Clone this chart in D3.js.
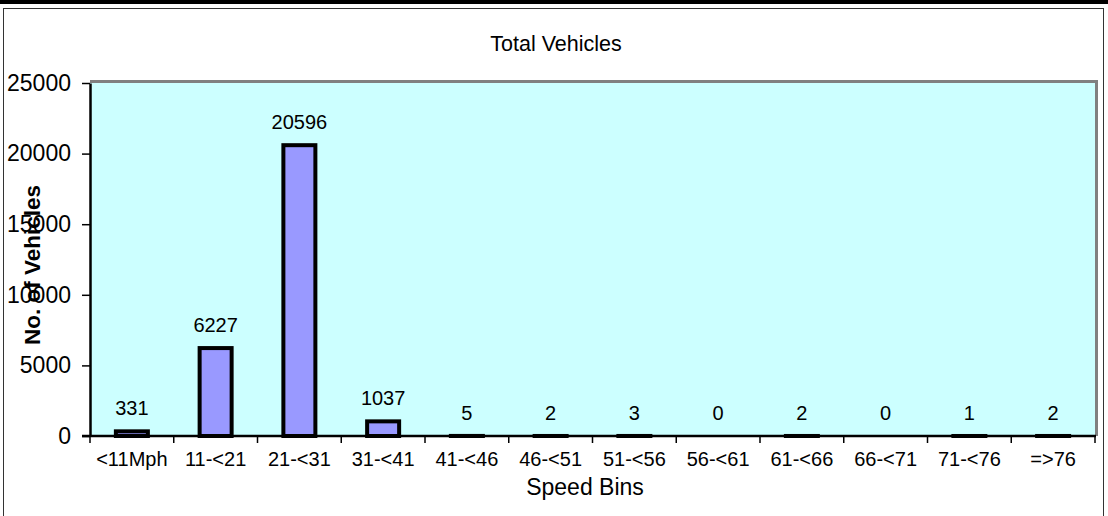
<!DOCTYPE html>
<html><head><meta charset="utf-8">
<script src="https://cdn.jsdelivr.net/npm/d3@7"></script>
<style>body{margin:0;background:#fff}svg{display:block;font-family:"Liberation Sans",Arial,sans-serif}</style>
</head><body>
<svg id="c" width="1108" height="516"></svg>
<script>
const categories = ["<11Mph","11-<21","21-<31","31-<41","41-<46","46-<51","51-<56","56-<61","61-<66","66-<71","71-<76","=>76"];
const values = [331,6227,20596,1037,5,2,3,0,2,0,1,2];
const yTicks = [0,5000,10000,15000,20000,25000];

const svg = d3.select("#c");
const L=90, T=83, R=1095, B=436;

// top heavy rule and outer frame
svg.append("rect").attr("x",0).attr("y",0).attr("width",1108).attr("height",4).attr("fill","#000");
svg.append("rect").attr("x",3.5).attr("y",8.5).attr("width",1100).attr("height",520).attr("fill","none").attr("stroke","#333").attr("stroke-width",1);

const x = d3.scaleBand().domain(categories).range([L,R]).paddingInner(0).paddingOuter(0);
const y = d3.scaleLinear().domain([0,25000]).range([B,T]);

// plot area
svg.append("rect").attr("x",L).attr("y",T).attr("width",R-L).attr("height",B-T).attr("fill","#ccffff");
// gray top/right border
svg.append("path").attr("d",`M${L},${T-1.5}H${R+1.5}V${B}`).attr("fill","none").attr("stroke","#808080").attr("stroke-width",3);

// bars
const bw = 32;
svg.selectAll("rect.bar").data(values).enter().append("rect")
  .attr("class","bar")
  .attr("x",(d,i)=>x(categories[i])+x.bandwidth()/2-bw/2)
  .attr("y",d=>y(d))
  .attr("width",bw)
  .attr("height",d=>B-y(d))
  .attr("fill","#9999ff").attr("stroke","#000").attr("stroke-width",4);

// value labels
svg.selectAll("text.val").data(values).enter().append("text")
  .attr("class","val")
  .attr("x",(d,i)=>x(categories[i])+x.bandwidth()/2)
  .attr("y",d=>y(d)-16)
  .attr("text-anchor","middle").attr("font-size",20).attr("fill","#000")
  .text(d=>d);

// y axis
const yAxis = d3.axisLeft(y).tickValues(yTicks).tickSize(8).tickSizeOuter(0).tickPadding(11).tickFormat(d3.format("d"));
const gy = svg.append("g").attr("transform",`translate(${L},0)`).call(yAxis);
gy.select(".domain").attr("stroke","#000").attr("stroke-width",2.5);
gy.selectAll(".tick line").attr("stroke","#000").attr("stroke-width",1.5);
gy.selectAll(".tick text").attr("font-size",23).attr("fill","#000").attr("font-family","Liberation Sans, Arial, sans-serif");

// x axis
const xb = d3.scaleLinear().domain([0,categories.length]).range([L,R]);
const gx = svg.append("g").attr("transform",`translate(0,${B})`);
gx.append("line").attr("x1",L-8).attr("x2",R+1).attr("y1",0).attr("y2",0).attr("stroke","#000").attr("stroke-width",2.5);
gx.selectAll("line.t").data(d3.range(categories.length+1)).enter().append("line")
  .attr("class","t")
  .attr("x1",d=>xb(d)).attr("x2",d=>xb(d)).attr("y1",0).attr("y2",7).attr("stroke","#000").attr("stroke-width",1.5);
gx.selectAll("text.xl").data(categories).enter().append("text")
  .attr("class","xl")
  .attr("x",d=>x(d)+x.bandwidth()/2).attr("y",30)
  .attr("text-anchor","middle").attr("font-size",20).attr("fill","#000").text(d=>d);

// titles
svg.append("text").attr("x",556).attr("y",51).attr("text-anchor","middle").attr("font-size",21.5).text("Total Vehicles");
svg.append("text").attr("x",585).attr("y",495).attr("text-anchor","middle").attr("font-size",23).text("Speed Bins");
svg.append("text").attr("transform","translate(40,265) rotate(-90)").attr("text-anchor","middle")
  .attr("font-size",22.5).attr("font-weight","bold").text("No. of Vehicles");
</script>
</body></html>
